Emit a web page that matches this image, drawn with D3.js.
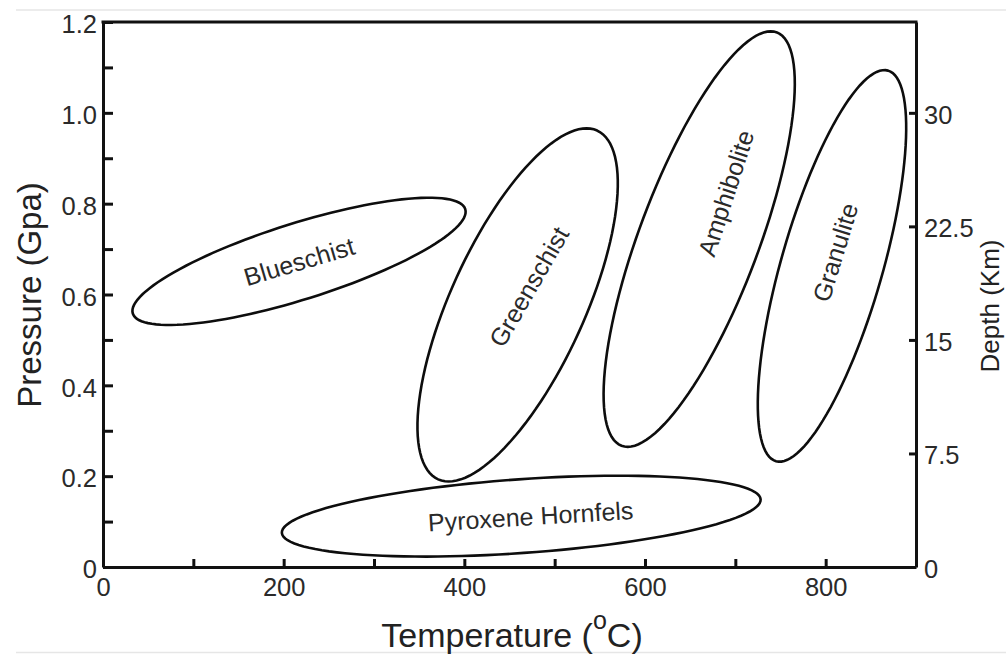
<!DOCTYPE html>
<html>
<head>
<meta charset="utf-8">
<script src="https://cdn.jsdelivr.net/npm/d3@7"></script>
<style>
  body { margin: 0; background: #fff; }
  svg { display: block; font-family: "Liberation Sans", Arial, Helvetica, sans-serif; }
  .axis text { fill: #2a2a2a; font-size: 25.5px; }
  .axis path, .axis line { stroke: #111; stroke-width: 3; }
  .facies { fill: none; stroke: #0d0d0d; stroke-width: 2.6; }
  .facies-label { fill: #2a2a2a; font-size: 25px; text-anchor: middle; }
  .title { fill: #222; }
</style>
</head>
<body>
<svg id="chart" width="1006" height="654"></svg>
<script>
// metamorphic facies
const facies = ['Blueschist', 'Greenschist', 'Amphibolite', 'Granulite', 'Pyroxene Hornfels'];
// ellipse centre (°C, GPa)
const centerT = [217, 459, 660, 807, 463];
const centerP = [0.673, 0.577, 0.722, 0.663, 0.112];
// half major axis as a (°C, GPa) vector
const majorT = [184, 88, 86, 62, 265];
const majorP = [0.115, 0.384, 0.455, 0.430, 0.037];
// half minor axis as a (°C, GPa) vector
const minorT = [12.7, 67.5, 61.7, 53.9, 2.9];
const minorP = [-0.080, -0.061, -0.047, -0.031, -0.081];
// label anchor (°C, GPa) and angle
const labelT = [220, 480, 699, 820, 474];
const labelP = [0.654, 0.607, 0.817, 0.687, 0.092];
const labelAngle = [-16.5, -60, -72, -73, -3.5];

// axis ticks
const tempTicks = [0, 100, 200, 300, 400, 500, 600, 700, 800, 900];
const pressTicks = [0, 0.1, 0.2, 0.3, 0.4, 0.5, 0.6, 0.7, 0.8, 0.9, 1.0, 1.1, 1.2];
const depthTicks = [0, 7.5, 15, 22.5, 30];

const svg = d3.select('#chart');
const margin = { left: 103, right: 90, top: 22, bottom: 87 };
const W = 1006, H = 654;

const x = d3.scaleLinear().domain([0, 900]).range([margin.left, W - margin.right]);
const y = d3.scaleLinear().domain([0, 1.2]).range([H - margin.bottom, margin.top]);
const yDepth = d3.scaleLinear().domain([0, 36]).range([H - margin.bottom, margin.top]);

// faint page frame lines
svg.append('line').attr('x1', 16).attr('x2', W).attr('y1', 10).attr('y2', 10)
  .attr('stroke', '#e6e6e6').attr('stroke-width', 1.5);
svg.append('line').attr('x1', 16).attr('x2', W).attr('y1', 652.5).attr('y2', 652.5)
  .attr('stroke', '#e6e6e6').attr('stroke-width', 1.5);

// facies ellipses
const line = d3.line()
  .x((d) => x(d[0]))
  .y((d) => y(d[1]))
  .curve(d3.curveLinearClosed);

const steps = d3.range(0, 360, 3).map((a) => (a * Math.PI) / 180);

facies.forEach((name, i) => {
  const pts = steps.map((t) => [
    centerT[i] + majorT[i] * Math.cos(t) + minorT[i] * Math.sin(t),
    centerP[i] + majorP[i] * Math.cos(t) + minorP[i] * Math.sin(t)
  ]);
  svg.append('path').attr('class', 'facies').attr('d', line(pts));

  const lx = x(labelT[i]), ly = y(labelP[i]);
  svg.append('text')
    .attr('class', 'facies-label')
    .attr('transform', `translate(${lx},${ly}) rotate(${labelAngle[i]})`)
    .text(name);
});

// axes (ticks point inward)
const fmtP = (d) => {
  const k = Math.round(d * 10);
  if (k % 2 !== 0) return '';
  return k === 0 ? '0' : d3.format('.1f')(d);
};

svg.append('g')
  .attr('class', 'axis')
  .attr('transform', `translate(${x(0)},0)`)
  .call(d3.axisLeft(y).tickValues(pressTicks).tickFormat(fmtP)
    .tickSizeInner(-10).tickSizeOuter(0).tickPadding(6))
  .selectAll('text').attr('dy', '0.42em');

svg.append('g')
  .attr('class', 'axis')
  .attr('transform', `translate(0,${y(0)})`)
  .call(d3.axisBottom(x).tickValues(tempTicks)
    .tickFormat((d) => (d % 200 === 0 && d < 900 ? d : ''))
    .tickSizeInner(-8).tickSizeOuter(0).tickPadding(11));

svg.append('g')
  .attr('class', 'axis')
  .attr('transform', `translate(${x(900)},0)`)
  .call(d3.axisRight(yDepth).tickValues(depthTicks).tickFormat((d) => d)
    .tickSizeInner(-7).tickSizeOuter(0).tickPadding(8))
  .selectAll('text').attr('dy', '0.4em');

// top frame line
svg.append('line')
  .attr('x1', x(0) - 1.5).attr('x2', x(900) + 1.5)
  .attr('y1', y(1.2)).attr('y2', y(1.2))
  .attr('stroke', '#111').attr('stroke-width', 3);

// titles
const xt = svg.append('text')
  .attr('class', 'title')
  .attr('x', 512).attr('y', 647)
  .attr('text-anchor', 'middle')
  .style('font-size', '34px');
xt.append('tspan').text('Temperature (');
xt.append('tspan').attr('dy', -18).style('font-size', '25px').text('o');
xt.append('tspan').attr('dy', 18).text('C)');

svg.append('text')
  .attr('class', 'title')
  .attr('transform', 'translate(41,295) rotate(-90)')
  .attr('text-anchor', 'middle')
  .style('font-size', '33px')
  .text('Pressure (Gpa)');

svg.append('text')
  .attr('class', 'title')
  .attr('transform', 'translate(999,306) rotate(-90)')
  .attr('text-anchor', 'middle')
  .style('font-size', '26px')
  .text('Depth (Km)');
</script>
</body>
</html>
